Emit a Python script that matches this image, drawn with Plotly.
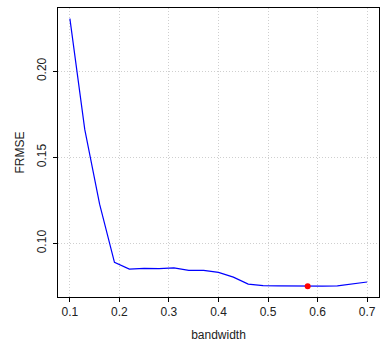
import plotly.graph_objects as go

# Cross-validated error as a function of smoothing bandwidth
bandwidth = [0.10, 0.13, 0.16, 0.19, 0.22, 0.25, 0.28, 0.31, 0.34, 0.37, 0.40,
             0.43, 0.46, 0.49, 0.52, 0.55, 0.58, 0.61, 0.64, 0.67, 0.70]
frmse = [0.2305, 0.1662, 0.1228, 0.0890, 0.0851, 0.0855, 0.0854, 0.0858, 0.0844,
         0.0843, 0.0832, 0.0804, 0.0764, 0.0755, 0.0753, 0.0752, 0.0751, 0.0752,
         0.0754, 0.0766, 0.0776]

best_bw = [0.58]
best_frmse = [0.0751]

x_ticks = [0.1, 0.2, 0.3, 0.4, 0.5, 0.6, 0.7]
y_ticks = [0.10, 0.15, 0.20]

font = "Liberation Sans, Arial, sans-serif"

fig = go.Figure()
fig.add_trace(go.Scatter(x=bandwidth, y=frmse, mode="lines",
                         line=dict(color="#0000ff", width=1.2),
                         showlegend=False, hoverinfo="skip"))
fig.add_trace(go.Scatter(x=best_bw, y=best_frmse, mode="markers",
                         marker=dict(color="#ff0000", size=6, line=dict(width=0)),
                         showlegend=False, hoverinfo="skip"))

# R-style 4% padding around the data range
xmin, xmax = min(bandwidth), max(bandwidth)
ymin, ymax = min(frmse), max(frmse)
dx, dy = (xmax - xmin) * 0.04, (ymax - ymin) * 0.04

axis_common = dict(
    showline=True, linecolor="black", linewidth=1, mirror=True,
    ticks="outside", ticklen=4, tickcolor="black", tickwidth=1,
    showgrid=True, gridcolor="#cfcfcf", gridwidth=1, griddash="1px,2px",
    zeroline=False, tickfont=dict(family=font, size=12, color="#222"),
)

fig.update_xaxes(range=[xmin - dx, xmax + dx], tickvals=x_ticks,
                 ticktext=[f"{v:.1f}" for v in x_ticks],
                 title=dict(text="bandwidth", font=dict(family=font, size=12, color="#222"),
                            standoff=12),
                 **axis_common)
fig.update_yaxes(range=[ymin - dy, ymax + dy], tickvals=y_ticks,
                 ticktext=[f"{v:.2f}" for v in y_ticks], tickangle=-90,
                 ticklabelstandoff=2,
                 title=dict(text="FRMSE", font=dict(family=font, size=12, color="#222"),
                            standoff=8),
                 **axis_common)

fig.update_layout(
    width=380, height=345,
    margin=dict(l=58, r=1, t=8, b=48),
    plot_bgcolor="white", paper_bgcolor="white",
    font=dict(family=font),
)

fig.write_html("out.html")
